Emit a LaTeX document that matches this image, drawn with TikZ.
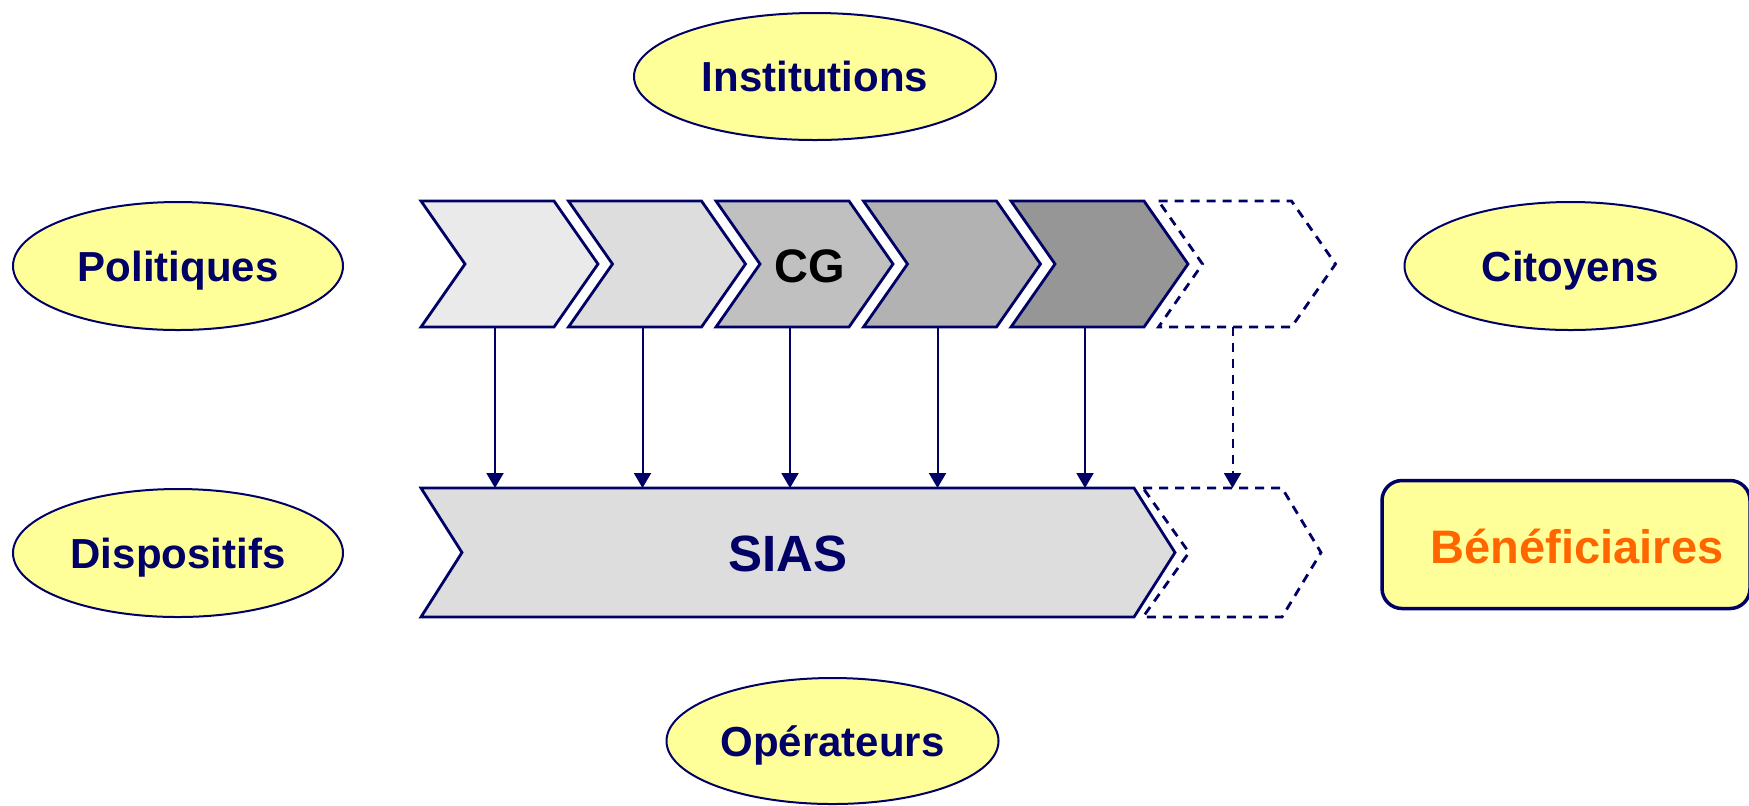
\documentclass[tikz,border=0pt]{standalone}
\usepackage{fontspec}
\setmainfont{Liberation Sans}
\usetikzlibrary{shapes.geometric,arrows.meta}
\definecolor{navy}{HTML}{000066}
\definecolor{ellfill}{HTML}{FFFF99}
\definecolor{orng}{HTML}{FF6600}
\definecolor{ga}{HTML}{EAEAEA}
\definecolor{gb}{HTML}{DDDDDD}
\definecolor{gc}{HTML}{C0C0C0}
\definecolor{gd}{HTML}{B2B2B2}
\definecolor{ge}{HTML}{969696}
\begin{document}
\begin{tikzpicture}[x=0.5pt,y=-0.5pt,
  lbl/.style={font=\fontsize{21pt}{25pt}\selectfont\bfseries, text=navy, text height=15pt, text depth=0pt, inner sep=0pt},
  ell/.style={lbl, ellipse, draw=navy, line width=1pt, fill=ellfill},
  chev/.style={draw=navy, line width=1.4pt, line join=miter},
  dchev/.style={chev, dash pattern=on 4.5pt off 3.5pt},
  conn/.style={draw=navy, line width=1pt, -{Triangle[length=7.5pt,width=8.5pt]}},
  dconn/.style={conn, dash pattern=on 4.5pt off 3.5pt},
  benbox/.style={draw=navy, line width=1.75pt, fill=ellfill, rounded corners=10pt, minimum width=184pt, minimum height=64pt, inner sep=0pt},
]
\useasboundingbox (0,0) rectangle (1749,805);

% ellipses
\node[ell, minimum width=181pt, minimum height=63.5pt] (inst) at (815,76.5) {Institutions};
\node[ell, minimum width=165pt, minimum height=64pt] (pol) at (178,266) {Politiques};
\node[ell, minimum width=166pt, minimum height=64pt] (cit) at (1570.5,266) {Citoyens};
\node[ell, minimum width=165pt, minimum height=64pt] (disp) at (178,553) {Dispositifs};
\node[ell, minimum width=166pt, minimum height=63pt] (oper) at (832.5,741) {Opérateurs};

% top chevrons
\foreach \i/\c in {0/ga,1/gb,2/gc,3/gd,4/ge}{
  \pgfmathsetmacro\L{421+147.5*\i}
  \draw[chev, fill=\c] (\L,201) -- ++(133,0) -- ++(44,63) -- ++(-44,63) -- ++(-133,0) -- ++(44,-63) -- cycle;
  \coordinate (c\i) at (\L+74,327);
  \coordinate (s\i) at (\L+74,488);
}
\draw[dchev] (1158.5,201) -- ++(133,0) -- ++(44,63) -- ++(-44,63) -- ++(-133,0) -- ++(44,-63) -- cycle;
\coordinate (c5) at (1232.5,327);
\coordinate (s5) at (1232.5,488);

\node[lbl, text=black, font=\fontsize{23.5pt}{28pt}\selectfont\bfseries, text height=16.8pt] (cg) at (809.5,266) {CG};

% SIAS
\draw[chev, fill=gb] (421,488) -- (1134,488) -- (1175,552.5) -- (1134,617) -- (421,617) -- (462,552.5) -- cycle;
\draw[dchev] (1143,488) -- (1282,488) -- (1321,552.5) -- (1282,617) -- (1143,617) -- (1189,552.5) -- cycle;
\node[lbl, font=\fontsize{25.5pt}{30pt}\selectfont\bfseries, text height=18.3pt] (sias) at (788,553) {SIAS};

% connectors
\foreach \i in {0,...,4}{\draw[conn] (c\i) -- (s\i);}
\draw[dconn] (c5) -- (s5);

% beneficiaires
\node[benbox] (ben) at (1566,544.5) {};
\node[lbl, text=orng, font=\fontsize{23.5pt}{28pt}\selectfont\bfseries, text height=16.8pt] (bentxt) at ([xshift=5.5pt,yshift=-1pt]ben.center) {Bénéficiaires};
\end{tikzpicture}
\end{document}
